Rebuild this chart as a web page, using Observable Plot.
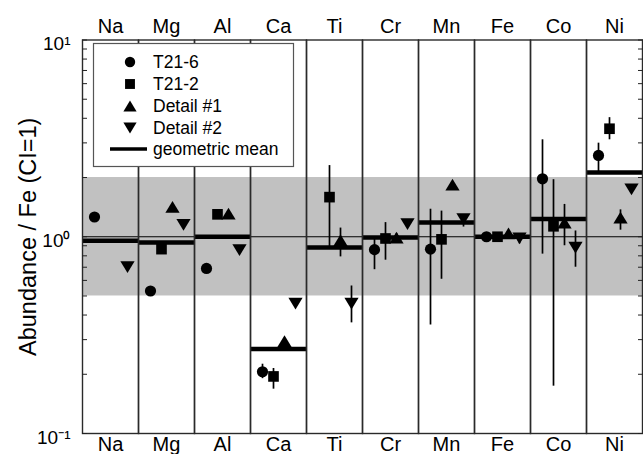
<!DOCTYPE html>
<html>
<head>
<meta charset="utf-8">
<script src="https://cdn.jsdelivr.net/npm/d3@7"></script>
<script src="https://cdn.jsdelivr.net/npm/@observablehq/plot@0.6"></script>
<style>
  html, body { margin: 0; padding: 0; background: #fff; overflow: hidden; }
  #chart { width: 643px; height: 454px; }
</style>
</head>
<body>
<div id="chart"></div>
<script>
// ---- Data ----
const elements = ["Na", "Mg", "Al", "Ca", "Ti", "Cr", "Mn", "Fe", "Co", "Ni"];
const seriesNames = ["T21-6", "T21-2", "Detail #1", "Detail #2"];

const t216Value = [1.26, 0.53, 0.69, 0.206, null, 0.86, 0.865, 1.0, 1.97, 2.59];
const t216Lo    = [null, null, null, 0.19, null, 0.68, 0.356, null, 0.816, 2.13];
const t216Hi    = [null, null, null, 0.225, null, 1.0, 1.38, null, 3.11, 2.99];

const t212Value = [null, 0.865, 1.30, 0.195, 1.59, 0.98, 0.97, 1.0, 1.13, 3.54];
const t212Lo    = [null, null, null, 0.168, 0.88, 0.76, 0.608, null, 0.174, 3.11];
const t212Hi    = [null, null, null, 0.214, 2.30, 1.18, 1.35, null, 1.95, 4.03];

const detail1Value = [null, 1.42, 1.31, 0.295, 0.96, 0.99, 1.84, 1.04, 1.18, 1.25];
const detail1Lo    = [null, null, null, null, 0.79, 0.95, null, null, 0.90, 1.08];
const detail1Hi    = [null, null, null, null, 1.107, 1.04, null, null, 1.46, 1.37];

const detail2Value = [0.70, 1.15, 0.855, 0.457, 0.457, 1.16, 1.23, 0.98, 0.88, 1.74];
const detail2Lo    = [null, null, null, null, 0.365, null, 1.12, 0.92, 0.70, null];
const detail2Hi    = [null, null, null, null, 0.562, null, 1.29, 1.0, 1.07, null];

const geometricMean = [0.955, 0.935, 1.0, 0.269, 0.882, 0.99, 1.18, 1.0, 1.23, 2.12];

const bandRange = [0.5, 2];          // shaded region
const referenceLevel = [1];          // horizontal line
const majorTicks = [0.1, 1, 10];
const minorTicks = [0.2, 0.3, 0.4, 0.5, 0.6, 0.7, 0.8, 0.9, 2, 3, 4, 5, 6, 7, 8, 9];
const yLabel = "Abundance / Fe (CI=1)";
const meanLabel = "geometric mean";

// ---- Tidy tables built from the arrays ----
const seriesTable = [
  [t216Value, t216Lo, t216Hi],
  [t212Value, t212Lo, t212Hi],
  [detail1Value, detail1Lo, detail1Hi],
  [detail2Value, detail2Lo, detail2Hi]
];
const points = [];
seriesTable.forEach(([vals, los, his], s) => {
  elements.forEach((el, i) => {
    if (vals[i] != null) points.push({element: el, series: seriesNames[s], value: vals[i], lo: los[i], hi: his[i]});
  });
});
const errorBars = points.filter(d => d.lo != null && d.hi != null);
const means = elements.map((el, i) => ({element: el, mean: geometricMean[i]}));

// ---- Symbols ----
const symSquare = {draw(ctx, size) { const r = Math.sqrt(size / Math.PI) * 0.95; ctx.rect(-r, -r, 2 * r, 2 * r); }};
const symTriUp = {draw(ctx, size) { const r = Math.sqrt(size / Math.PI); const w = 1.27 * r, h = 1.05 * r;
  ctx.moveTo(0, -h); ctx.lineTo(w, h); ctx.lineTo(-w, h); ctx.closePath(); }};
const symTriDown = {draw(ctx, size) { const r = Math.sqrt(size / Math.PI); const w = 1.27 * r, h = 1.05 * r;
  ctx.moveTo(0, h); ctx.lineTo(w, -h); ctx.lineTo(-w, -h); ctx.closePath(); }};
const symbolRange = [d3.symbolCircle, symSquare, symTriUp, symTriDown];

const sup = {"-": "\u207B", "0": "\u2070", "1": "\u00B9"};
const powerLabel = d => "10" + String(Math.round(Math.log10(d))).split("").map(c => sup[c]).join("");

const FONT = "'Liberation Sans', Arial, Helvetica, sans-serif";

const chart = Plot.plot({
  width: 643,
  height: 454,
  marginTop: 39.5,
  marginBottom: 21,
  marginLeft: 80,
  marginRight: -1,
  style: {fontFamily: FONT, color: "#000", background: "#fff"},
  fx: {domain: elements, padding: 0},
  x: {type: "point", domain: seriesNames, padding: 1, axis: null},
  y: {type: "log", domain: [0.1, 10]},
  symbol: {domain: seriesNames, range: symbolRange},
  marks: [
    Plot.rect([bandRange], {y1: d => d[0], y2: d => d[1], fill: "#c1c1c1"}),
    Plot.ruleY(referenceLevel, {stroke: "#000", strokeWidth: 1}),
    Plot.ruleY(means, {fx: "element", y: "mean", stroke: "#000", strokeWidth: 4.5}),
    Plot.ruleX(errorBars, {fx: "element", x: "series", y1: "lo", y2: "hi", stroke: "#000", strokeWidth: 1.7}),
    Plot.dot(points, {fx: "element", x: "series", y: "value", symbol: "series", fill: "#000", stroke: "none", r: 5.6}),
    Plot.frame({stroke: "#2a2a2a", strokeWidth: 1.4}),
    Plot.axisY({anchor: "left", ticks: [...majorTicks, ...minorTicks], tickSize: -5, tickFormat: () => "", label: null, stroke: "#222"}),
    Plot.axisY({anchor: "right", ticks: [...majorTicks, ...minorTicks], tickSize: -5, tickFormat: () => "", label: null, stroke: "#222"}),
    Plot.axisY({anchor: "left", ticks: majorTicks, tickSize: 0, tickPadding: 12, tickFormat: powerLabel, fontSize: 19, dy: 4, label: null, fill: "#000"}),
    Plot.axisY({anchor: "left", ticks: [], tickSize: 0, label: yLabel, labelAnchor: "center", labelArrow: false, labelOffset: 63, fontSize: 23.5, fill: "#000"}),
    Plot.axisFx({anchor: "top", tickSize: 0, tickPadding: 7, fontSize: 20, label: null, fill: "#000"}),
    Plot.axisFx({anchor: "bottom", tickSize: 0, tickPadding: 3, fontSize: 20, label: null, fill: "#000"})
  ]
});

// ---- In-plot legend (box over the first columns) ----
const svg = d3.select(chart);
const lg = svg.append("g").attr("font-family", FONT).attr("font-size", 17.5).attr("text-anchor", "start");
lg.append("rect").attr("x", 93.5).attr("y", 43.5).attr("width", 200).attr("height", 123)
  .attr("fill", "#fff").attr("stroke", "#555").attr("stroke-width", 1.2);
const rowY = [62, 84, 106, 128, 149];
seriesNames.forEach((name, i) => {
  lg.append("path")
    .attr("d", d3.symbol().type(symbolRange[i]).size(Math.PI * 5.2 * 5.2)())
    .attr("transform", `translate(130,${rowY[i]})`).attr("fill", "#000");
  lg.append("text").attr("x", 153).attr("y", rowY[i]).attr("dy", "0.35em").attr("fill", "#000")
    .attr("text-anchor", "start").text(name);
});
lg.append("line").attr("x1", 110).attr("x2", 147).attr("y1", rowY[4]).attr("y2", rowY[4])
  .attr("stroke", "#000").attr("stroke-width", 3.5);
lg.append("text").attr("x", 153).attr("y", rowY[4]).attr("dy", "0.35em").attr("fill", "#000")
  .attr("text-anchor", "start").text(meanLabel);

document.getElementById("chart").appendChild(chart);
</script>
</body>
</html>
